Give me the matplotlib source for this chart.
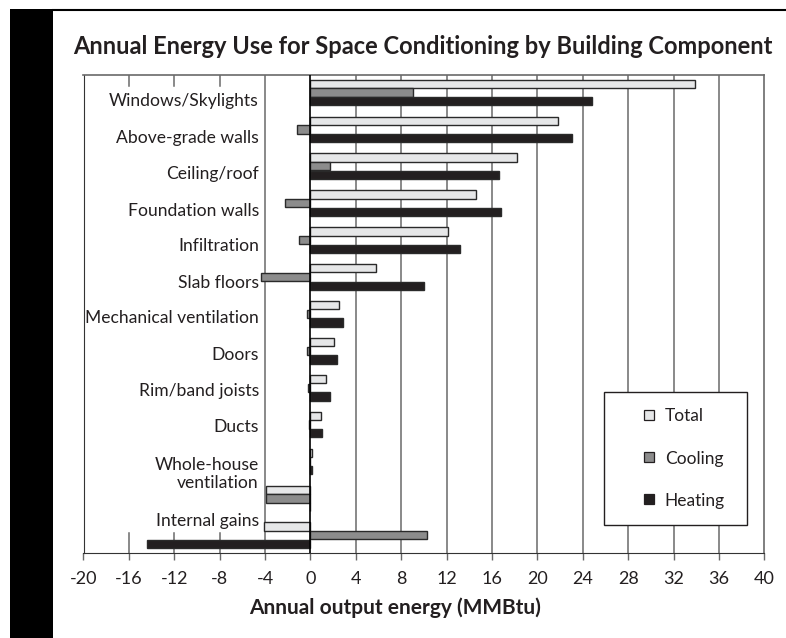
import numpy as np
import matplotlib
matplotlib.use("Agg")
import matplotlib.pyplot as plt
from matplotlib.lines import Line2D
from matplotlib.patches import Rectangle

plt.rcParams['font.family'] = ['Lato', 'DejaVu Sans']

# data (MMBtu), one group per row; the 12th group has no label of its own
groups = ['Windows/Skylights', 'Above-grade walls', 'Ceiling/roof', 'Foundation walls',
          'Infiltration', 'Slab floors', 'Mechanical ventilation', 'Doors',
          'Rim/band joists', 'Ducts', 'Whole-house\nventilation', '', 'Internal gains']
total = [33.85, 21.8, 18.2, 14.6, 12.15, 5.75, 2.5, 2.05, 1.4, 0.95, 0.15, -3.9, -4.1]
cooling = [9.05, -1.2, 1.75, -2.2, -1.05, -4.4, -0.3, -0.3, -0.2, -0.1, 0.0, -3.9, 10.3]
heating = [24.8, 23.05, 16.6, 16.8, 13.15, 10.05, 2.9, 2.35, 1.7, 1.05, 0.15, 0.0, -14.4]

# label rows (in group units) where the category names sit
label_rows = [0.23, 1.22, 2.21, 3.2, 4.15, 5.16, 6.11, 7.12, 8.09, 9.07, 10.34, None, 11.6]

xticks = np.arange(-20, 41, 4)

c_total = '#e6e7e8'
c_cool = '#8c8c8c'
c_heat = '#231f20'
c_grid = '#6a6a6a'

fig = plt.figure(figsize=(7.86, 6.38), dpi=100)
ax = fig.add_axes([83.5 / 786, 1 - 553 / 638, 680.8 / 786, 478 / 638])

y = np.arange(len(groups))
h = 0.225
off = 0.235
kw = dict(height=h, edgecolor='#2a2a2a', linewidth=1.0, zorder=3)
ax.barh(y - off, total, color=c_total, **kw)
ax.barh(y, cooling, color=c_cool, **kw)
ax.barh(y + off, heating, color=c_heat, **kw)

ax.set_xlim(-20, 40)
ax.set_ylim(12.48, -0.474)

# grid: full lines, except where the labels sit
for xv in xticks[1:-1]:
    if xv == 0:
        ax.axvline(0, color='black', lw=1.2, zorder=4)
    elif xv in (-16, -12, -8):
        ax.axvline(xv, ymin=0.977, ymax=1, color=c_grid, lw=1.1, zorder=1)
        ax.axvline(xv, ymin=0, ymax=0.042, color=c_grid, lw=1.1, zorder=1)
    else:
        ax.axvline(xv, color=c_grid, lw=1.1, zorder=1)

for name, row in zip(groups, label_rows):
    if row is None:
        continue
    ax.text(-4.55, row, name, ha='right', va='center', fontsize=12.6,
            color='#231f20', linespacing=1.1, zorder=5)

ax.set_xticks(xticks)
ax.set_xticklabels([str(v) for v in xticks], fontsize=13, color='#231f20')
ax.tick_params(axis='x', direction='out', length=5, width=1.0, color=c_grid, pad=8)
ax.set_yticks([])
for s in ['top', 'right']:
    ax.spines[s].set_color(c_grid)
    ax.spines[s].set_linewidth(1.2)
ax.spines['left'].set_color('#333333')
ax.spines['bottom'].set_color('#333333')

handles = [Line2D([], [], marker='s', ls='none', markersize=7.5, markerfacecolor=c,
                  markeredgecolor='#231f20', markeredgewidth=0.9)
           for c in (c_total, c_cool, c_heat)]
leg = ax.legend(handles, ['Total', 'Cooling', 'Heating'], loc='upper left',
                bbox_to_anchor=((604 - 83.5) / 680.8, (553 - 392) / 478, 143 / 680.8, 0),
                mode='expand', borderaxespad=0, fontsize=12.5, borderpad=0.95,
                labelspacing=1.5, handlelength=3.3, handletextpad=-0.75,
                fancybox=False, framealpha=1)
leg.get_frame().set_edgecolor('#231f20')
leg.get_frame().set_linewidth(1.0)
for t in leg.get_texts():
    t.set_color('#231f20')

fig.text(423 / 786, 1 - 47 / 638, 'Annual Energy Use for Space Conditioning by Building Component',
         ha='center', va='center', fontsize=17, fontweight='bold', color='#231f20')
fig.text(395 / 786, 1 - 608 / 638, 'Annual output energy (MMBtu)',
         ha='center', va='center', fontsize=15, fontweight='bold', color='#231f20')

# page decoration: black side bar and top rule
fig.add_artist(Rectangle((10 / 786, 0), 43 / 786, 1 - 9 / 638, transform=fig.transFigure,
                         facecolor='black', edgecolor='none'))
fig.add_artist(Line2D([53 / 786, 1], [1 - 10 / 638] * 2, transform=fig.transFigure,
                      color='black', lw=1.5))

fig.savefig('out.png', dpi=100)
